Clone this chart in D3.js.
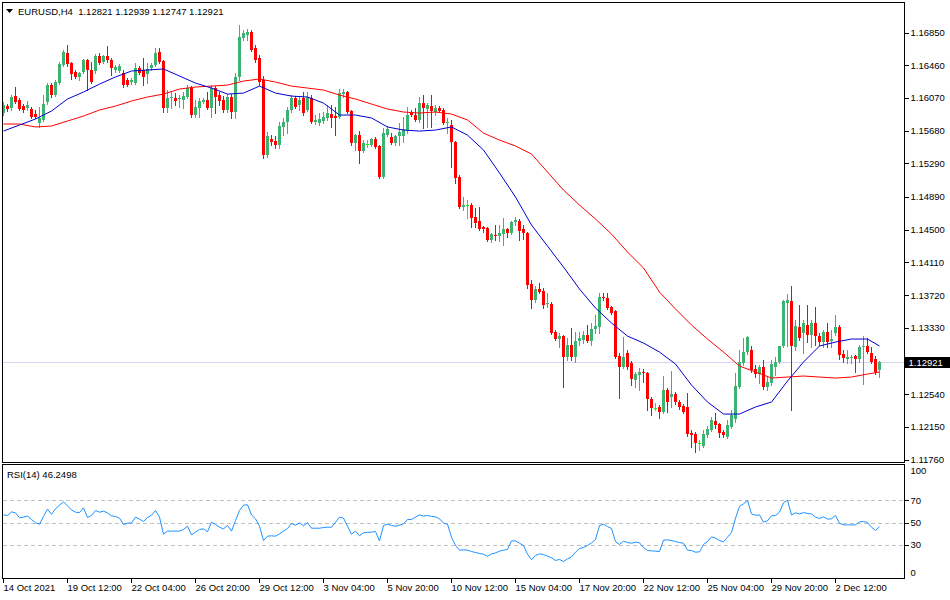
<!DOCTYPE html>
<html><head><meta charset="utf-8">
<script src="https://cdn.jsdelivr.net/npm/d3@7"></script>
<style>
html,body{margin:0;padding:0;background:#fff;}
svg{display:block;}
text{font-family:"Liberation Sans",Arial,sans-serif;font-size:9.5px;fill:#000;}
</style></head><body>
<svg id="c" width="950" height="600"></svg>
<script>
const symbol = "EURUSD,H4";
const open = [
1.15890,1.15973,1.15950,1.16092,1.16045,1.15973,1.15950,1.15938,1.15878,1.15771,
1.15807,1.16021,1.16223,1.16104,1.16247,1.16462,1.16605,1.16486,1.16379,1.16320,
1.16379,1.16522,1.16403,1.16391,1.16569,1.16498,1.16569,1.16522,1.16403,1.16391,
1.16367,1.16283,1.16259,1.16247,1.16427,1.16403,1.16355,1.16427,1.16462,1.16617,
1.16510,1.15950,1.16069,1.16069,1.16057,1.16045,1.16081,1.16188,1.15866,1.15950,
1.16021,1.16045,1.15950,1.16188,1.16104,1.16045,1.15926,1.16081,1.15902,1.16320,
1.16784,1.16820,1.16855,1.16665,1.16546,1.16283,1.15389,1.15580,1.15556,1.15509,
1.15723,1.15783,1.15926,1.16069,1.15985,1.16069,1.15926,1.16069,1.15783,1.15771,
1.15795,1.15831,1.15878,1.15854,1.15843,1.16116,1.16140,1.15914,1.15532,1.15627,
1.15437,1.15520,1.15509,1.15580,1.15497,1.15128,1.15627,1.15604,1.15532,1.15615,
1.15615,1.15687,1.15890,1.15866,1.15807,1.16009,1.15938,1.15973,1.15902,1.15950,
1.15926,1.15771,1.15747,1.15544,1.15128,1.14770,1.14793,1.14793,1.14651,1.14603,
1.14532,1.14520,1.14376,1.14435,1.14423,1.14447,1.14508,1.14459,1.14591,1.14603,
1.14508,1.14459,1.13851,1.13661,1.13792,1.13768,1.13613,1.13613,1.13279,1.13196,
1.13231,1.12982,1.13124,1.12982,1.13172,1.13184,1.13243,1.13172,1.13315,1.13339,
1.13697,1.13685,1.13578,1.13530,1.12994,1.12862,1.13030,1.12910,1.12707,1.12767,
1.12803,1.12791,1.12481,1.12374,1.12386,1.12326,1.12588,1.12505,1.12540,1.12445,
1.12397,1.12386,1.12075,1.12063,1.11956,1.11921,1.12051,1.12111,1.12219,1.12183,
1.12087,1.12028,1.12147,1.12243,1.12624,1.12910,1.13041,1.13065,1.12839,1.12779,
1.12862,1.12624,1.12671,1.12862,1.12922,1.13113,1.13625,1.13649,1.13101,1.13339,
1.13267,1.13363,1.13243,1.13387,1.13231,1.13160,1.13279,1.13172,1.13267,1.13339,
1.13018,1.12958,1.12970,1.12994,1.12958,1.13101,1.13113,1.13030,1.12958,1.12821];
const high = [
1.16021,1.15997,1.16104,1.16200,1.16069,1.15997,1.16033,1.15962,1.15926,1.15962,
1.16104,1.16247,1.16247,1.16283,1.16498,1.16641,1.16700,1.16498,1.16403,1.16379,
1.16534,1.16534,1.16498,1.16593,1.16605,1.16581,1.16688,1.16546,1.16462,1.16474,
1.16403,1.16308,1.16308,1.16486,1.16450,1.16546,1.16486,1.16486,1.16665,1.16665,
1.16522,1.16164,1.16140,1.16128,1.16104,1.16140,1.16223,1.16211,1.16045,1.16069,
1.16069,1.16140,1.16223,1.16211,1.16140,1.16092,1.16116,1.16116,1.16367,1.16939,
1.16879,1.16891,1.16879,1.16700,1.16581,1.16331,1.15663,1.15627,1.15615,1.15783,
1.15831,1.15962,1.16104,1.16092,1.16081,1.16140,1.16140,1.16104,1.15866,1.15890,
1.15902,1.15985,1.15985,1.15962,1.16176,1.16176,1.16152,1.15926,1.15639,1.15675,
1.15568,1.15568,1.15592,1.15604,1.15509,1.15711,1.15735,1.15651,1.15627,1.15771,
1.15843,1.15962,1.15926,1.15950,1.16081,1.16104,1.16009,1.16104,1.15985,1.15973,
1.15950,1.15831,1.15807,1.15556,1.15151,1.14889,1.14853,1.14817,1.14758,1.14770,
1.14544,1.14532,1.14459,1.14555,1.14555,1.14639,1.14520,1.14603,1.14651,1.14627,
1.14555,1.14471,1.13899,1.13827,1.13863,1.13804,1.13744,1.13637,1.13303,1.13267,
1.13243,1.13208,1.13327,1.13279,1.13279,1.13291,1.13363,1.13387,1.13482,1.13744,
1.13744,1.13744,1.13589,1.13542,1.13030,1.13220,1.13065,1.12934,1.12803,1.12851,
1.12839,1.12803,1.12505,1.12433,1.12409,1.12755,1.12612,1.12815,1.12564,1.12469,
1.12421,1.12552,1.12111,1.12087,1.11992,1.12111,1.12159,1.12266,1.12314,1.12195,
1.12111,1.12231,1.12350,1.12791,1.13065,1.13208,1.13231,1.13113,1.12886,1.12886,
1.12946,1.12743,1.12946,1.12982,1.13113,1.13661,1.13732,1.13827,1.13423,1.13601,
1.13423,1.13601,1.13423,1.13578,1.13267,1.13303,1.13387,1.13303,1.13482,1.13363,
1.13065,1.13065,1.13006,1.13006,1.13124,1.13231,1.13208,1.13101,1.12994,1.12939];
const low = [
1.15866,1.15914,1.15926,1.16009,1.15926,1.15902,1.15926,1.15831,1.15831,1.15724,
1.15795,1.15997,1.16081,1.16092,1.16235,1.16450,1.16450,1.16296,1.16308,1.16283,
1.16367,1.16164,1.16247,1.16367,1.16474,1.16486,1.16498,1.16343,1.16379,1.16379,
1.16200,1.16211,1.16235,1.16235,1.16355,1.16223,1.16247,1.16403,1.16450,1.16486,
1.15902,1.15902,1.15950,1.15985,1.15962,1.15950,1.16069,1.15843,1.15843,1.15843,
1.16009,1.15938,1.15843,1.15890,1.15985,1.15902,1.15902,1.15831,1.15831,1.16283,
1.16760,1.16760,1.16629,1.16498,1.16223,1.15354,1.15366,1.15509,1.15473,1.15473,
1.15627,1.15651,1.15902,1.15950,1.15926,1.15866,1.15914,1.15771,1.15759,1.15747,
1.15771,1.15807,1.15724,1.15627,1.15831,1.16081,1.15890,1.15509,1.15449,1.15294,
1.15425,1.15485,1.15497,1.15473,1.15116,1.15116,1.15615,1.15520,1.15509,1.15509,
1.15544,1.15651,1.15854,1.15795,1.15783,1.15711,1.15724,1.15724,1.15866,1.15902,
1.15759,1.15651,1.15247,1.15055,1.14758,1.14734,1.14639,1.14532,1.14532,1.14495,
1.14471,1.14364,1.14352,1.14376,1.14364,1.14316,1.14412,1.14447,1.14555,1.14376,
1.14388,1.13804,1.13566,1.13637,1.13744,1.13566,1.13578,1.13255,1.13184,1.13101,
1.12624,1.12946,1.12946,1.12922,1.13124,1.13148,1.13160,1.13124,1.13267,1.13267,
1.13661,1.13554,1.13494,1.12970,1.12493,1.12850,1.12839,1.12647,1.12624,1.12588,
1.12683,1.12350,1.12290,1.12350,1.12255,1.12314,1.12326,1.12386,1.12421,1.12362,
1.12314,1.12040,1.11909,1.11849,1.11873,1.11909,1.12028,1.12099,1.12135,1.12028,
1.12028,1.12016,1.12135,1.12207,1.12612,1.12886,1.13018,1.12803,1.12743,1.12671,
1.12600,1.12588,1.12647,1.12767,1.12910,1.13101,1.13113,1.12350,1.13065,1.13184,
1.13030,1.13160,1.13101,1.13124,1.13124,1.13101,1.13101,1.13101,1.13243,1.12958,
1.12922,1.12910,1.12910,1.12803,1.12922,1.12659,1.13030,1.12910,1.12779,1.12747];
const close = [
1.15985,1.15938,1.16081,1.16021,1.15938,1.15926,1.15985,1.15843,1.15843,1.15831,
1.15997,1.16223,1.16104,1.16259,1.16474,1.16617,1.16474,1.16355,1.16320,1.16367,
1.16522,1.16403,1.16259,1.16569,1.16486,1.16569,1.16522,1.16427,1.16439,1.16450,
1.16223,1.16223,1.16283,1.16427,1.16367,1.16320,1.16415,1.16462,1.16605,1.16498,
1.15950,1.16069,1.16081,1.16033,1.16069,1.16092,1.16188,1.15866,1.15962,1.16033,
1.16045,1.15950,1.16188,1.16081,1.16033,1.15926,1.16081,1.15902,1.16320,1.16796,
1.16843,1.16855,1.16641,1.16522,1.16259,1.15389,1.15615,1.15544,1.15509,1.15735,
1.15783,1.15926,1.16069,1.15962,1.16045,1.15890,1.16081,1.15783,1.15807,1.15819,
1.15843,1.15890,1.15831,1.15831,1.16128,1.16140,1.15902,1.15532,1.15627,1.15437,
1.15532,1.15520,1.15580,1.15485,1.15128,1.15651,1.15699,1.15532,1.15615,1.15663,
1.15699,1.15866,1.15866,1.15807,1.16009,1.15950,1.15985,1.15914,1.15950,1.15914,
1.15771,1.15783,1.15544,1.15116,1.14770,1.14793,1.14793,1.14639,1.14579,1.14508,
1.14508,1.14376,1.14447,1.14423,1.14459,1.14508,1.14459,1.14591,1.14615,1.14483,
1.14459,1.13840,1.13661,1.13792,1.13756,1.13601,1.13625,1.13267,1.13196,1.13231,
1.12982,1.13124,1.12982,1.13172,1.13208,1.13243,1.13172,1.13315,1.13351,1.13697,
1.13685,1.13566,1.13506,1.12982,1.12862,1.12982,1.12862,1.12719,1.12779,1.12803,
1.12791,1.12481,1.12374,1.12374,1.12326,1.12588,1.12445,1.12540,1.12445,1.12386,
1.12326,1.12063,1.12051,1.11956,1.11956,1.12063,1.12123,1.12231,1.12171,1.12075,
1.12051,1.12171,1.12290,1.12636,1.12922,1.13041,1.13220,1.12827,1.12779,1.12862,
1.12624,1.12683,1.12898,1.12922,1.13113,1.13649,1.13661,1.13113,1.13351,1.13208,
1.13387,1.13243,1.13387,1.13231,1.13160,1.13279,1.13160,1.13196,1.13339,1.13006,
1.12970,1.12982,1.12982,1.12958,1.13101,1.13113,1.13041,1.12922,1.12803,1.12921];

const maBars = [0,4,8,12,16,20,24,28,32,36,40,44,48,52,56,60,64,68,72,76,80,84,88,92,96,100,
104,108,112,116,120,124,128,132,136,140,144,148,152,156,160,164,168,172,176,180,184,188,192,196,
200,204,208,212,216,219];
const maFast = [1.15675,1.15747,1.15819,1.15914,1.16057,1.16140,1.16235,1.16320,1.16391,1.16403,
1.16415,1.16331,1.16247,1.16188,1.16116,1.16128,1.16211,1.16128,1.16092,1.16081,
1.16009,1.15866,1.15866,1.15831,1.15724,1.15687,1.15675,1.15687,1.15724,1.15627,
1.15449,1.15175,1.14889,1.14555,1.14304,1.14054,1.13792,1.13566,1.13387,1.13231,
1.13148,1.13041,1.12898,1.12647,1.12445,1.12302,1.12302,1.12386,1.12445,1.12695,
1.12922,1.13113,1.13160,1.13196,1.13196,1.13113];
const maSlow = [1.15759,1.15759,1.15724,1.15735,1.15795,1.15854,1.15926,1.15973,1.16033,1.16081,
1.16116,1.16176,1.16200,1.16211,1.16223,1.16271,1.16296,1.16259,1.16211,1.16188,
1.16164,1.16104,1.16057,1.15997,1.15938,1.15902,1.15890,1.15902,1.15878,1.15807,
1.15651,1.15568,1.15497,1.15401,1.15187,1.14972,1.14793,1.14627,1.14447,1.14233,
1.14043,1.13756,1.13554,1.13363,1.13196,1.13041,1.12874,1.12803,1.12731,1.12743,
1.12755,1.12743,1.12731,1.12743,1.12779,1.12803];

const rsi = [
56.8,56.2,59.5,58.6,54.2,54.8,55.7,52.7,49.7,48.5,
55.4,61.9,57.4,62.2,65.5,68.5,64.9,61.3,59.2,58.9,
63.1,54.5,56.3,60.7,59.2,60.1,58.6,55.9,55.4,53.9,
48.2,49.4,49.7,54.8,53.0,50.9,54.5,56.5,60.7,54.8,
39.6,42.3,42.3,42.3,42.3,43.8,46.7,39.0,41.4,43.8,
44.3,41.7,50.3,48.2,45.8,44.3,47.3,42.3,51.8,60.7,
65.5,65.8,56.8,53.3,46.7,33.9,37.8,38.1,37.8,39.9,
42.3,44.6,49.1,47.6,49.7,47.0,50.0,44.9,44.9,44.9,
45.5,45.8,45.8,50.3,54.8,53.9,46.7,39.6,42.3,38.1,
40.8,41.1,41.4,42.0,33.6,47.3,48.5,47.3,46.7,47.6,
48.8,52.7,52.7,54.8,56.8,55.7,56.3,55.4,55.1,53.3,
49.4,48.5,36.9,29.5,25.3,25.6,25.3,24.1,23.2,22.3,
21.7,19.9,22.0,22.9,24.4,25.3,25.9,33.6,33.6,31.5,
29.5,21.7,16.7,20.5,22.0,21.4,19.9,18.5,16.1,17.0,
15.2,17.6,19.3,23.5,26.8,27.7,29.5,31.8,34.8,47.3,
48.5,46.4,44.6,33.0,30.4,33.3,32.1,31.5,32.4,31.8,
27.7,25.0,24.7,24.4,24.1,34.2,34.5,33.9,33.0,32.1,
31.5,25.3,25.0,23.5,23.8,30.4,33.0,37.2,36.0,33.9,
32.7,36.9,41.1,53.9,64.3,66.7,69.6,57.7,56.5,56.8,
50.3,51.5,56.0,56.3,59.2,67.6,69.9,56.8,58.6,57.7,
58.9,58.0,57.7,54.8,53.6,55.1,53.0,53.3,56.3,49.4,
47.9,47.9,47.9,47.9,50.6,50.9,50.0,45.8,42.9,46.2498];

const priceTicks = [1.16850,1.16460,1.16070,1.15680,1.15290,1.14890,1.14500,1.14110,1.13720,1.13330,1.12540,1.12150,1.11760];
const rsiTicks = [100,70,50,30,0];
const rsiLevels = [70,50,30];
const dateTickBars = [0,16,32,48,64,80,96,112,128,144,160,176,192,208];
const dateLabels = ["14 Oct 2021","19 Oct 12:00","22 Oct 04:00","26 Oct 20:00","29 Oct 12:00","3 Nov 04:00","5 Nov 20:00","10 Nov 12:00","15 Nov 04:00","17 Nov 20:00","22 Nov 12:00","25 Nov 04:00","29 Nov 20:00","2 Dec 12:00"];

const n = close.length;
const svg = d3.select("#c");
const L = 2.5, R = 904.5, MT = 2.5, MB = 462.5, RT = 464.5, RB = 578.5;
const x = d3.scaleLinear().domain([0, n-1]).range([3.5, 3.5 + 4*(n-1)]);
const y = d3.scaleLinear().domain([1.11760, 1.16850]).range([459.5, 32.5]);
const yr = d3.scaleLinear().domain([0, 100]).range([RB, RT + 2]);
const f5 = d3.format(".5f");

const defs = svg.append("defs");
defs.append("clipPath").attr("id","cm").append("rect").attr("x",L).attr("y",MT).attr("width",R-L).attr("height",MB-MT);
defs.append("clipPath").attr("id","cr").append("rect").attr("x",L).attr("y",RT).attr("width",R-L).attr("height",RB-RT);

// current price line
const last = close[n-1];
const yl = Math.round(y(last));
svg.append("line").attr("x1",L).attr("x2",R).attr("y1",yl+0.5).attr("y2",yl+0.5)
  .attr("stroke","#d6d6f2").attr("stroke-width",1).attr("shape-rendering","crispEdges");

// candles
const gc = svg.append("g").attr("clip-path","url(#cm)").attr("shape-rendering","crispEdges");
const idx = d3.range(n);
const col = i => close[i] > open[i] ? "#3cb371" : (close[i] < open[i] ? "#ff0000" : "#00ff00");
gc.selectAll("line.w").data(idx).join("line").attr("class","w")
  .attr("x1",i=>x(i)).attr("x2",i=>x(i))
  .attr("y1",i=>y(high[i])).attr("y2",i=>y(low[i])+1)
  .attr("stroke",col).attr("stroke-width",1);
gc.selectAll("rect.b").data(idx).join("rect").attr("class","b")
  .attr("x",i=>x(i)-1.5).attr("width",3)
  .attr("y",i=>Math.min(y(open[i]),y(close[i])))
  .attr("height",i=>Math.max(1,Math.abs(y(open[i])-y(close[i]))))
  .attr("fill",col);

// moving averages
const gm = svg.append("g").attr("clip-path","url(#cm)");
const maLine = d3.line().x((d,k)=>x(maBars[k])).y(d=>y(d));
gm.append("path").attr("d",maLine(maSlow)).attr("fill","none").attr("stroke","#ff0000").attr("stroke-width",1);
gm.append("path").attr("d",maLine(maFast)).attr("fill","none").attr("stroke","#0000cd").attr("stroke-width",1);

// frames
svg.append("rect").attr("x",L).attr("y",MT).attr("width",R-L).attr("height",MB-MT).attr("fill","none").attr("stroke","#000").attr("shape-rendering","crispEdges");
svg.append("rect").attr("x",L).attr("y",RT).attr("width",R-L).attr("height",RB-RT).attr("fill","none").attr("stroke","#000").attr("shape-rendering","crispEdges");

// price axis
const ay = svg.append("g").attr("transform",`translate(${R},0)`)
  .call(d3.axisRight(y).tickValues(priceTicks).tickFormat(f5).tickSize(4).tickPadding(2));
ay.select(".domain").remove();
ay.selectAll("line").attr("stroke","#000").attr("shape-rendering","crispEdges");
ay.selectAll("text").attr("font-family","Liberation Sans, Arial, sans-serif").attr("font-size","9.5px").attr("fill","#000");

// price box
svg.append("rect").attr("x",R+0.5).attr("y",yl-5).attr("width",45).attr("height",11).attr("fill","#000");
svg.append("text").attr("x",R+4).attr("y",yl+0.5).attr("dy","0.35em").style("fill","#fff").text(f5(last));

// header
svg.append("path").attr("d","M6,9 L13,9 L9.5,13 Z").attr("fill","#000");
svg.append("text").attr("x",18).attr("y",15).style("white-space","pre")
  .text(`${symbol}  ${f5(open[n-1])} ${f5(high[n-1])} ${f5(low[n-1])} ${f5(close[n-1])}`);

// RSI
const gr = svg.append("g").attr("clip-path","url(#cr)");
gr.selectAll("line.lv").data(rsiLevels).join("line").attr("class","lv")
  .attr("x1",L).attr("x2",R).attr("y1",d=>Math.round(yr(d))+0.5).attr("y2",d=>Math.round(yr(d))+0.5)
  .attr("stroke","#c0c0c0").attr("stroke-dasharray","4,3").attr("shape-rendering","crispEdges");
gr.append("path").attr("d",d3.line().x((d,i)=>x(i)).y(d=>yr(d))(rsi))
  .attr("fill","none").attr("stroke","#1e90ff").attr("stroke-width",1);
svg.append("text").attr("x",7).attr("y",478).text(`RSI(14) ${rsi[n-1].toFixed(4)}`);

const ar = svg.append("g").attr("transform",`translate(${R},0)`)
  .call(d3.axisRight(yr).tickValues(rsiTicks).tickFormat(d3.format("d")).tickSize(4).tickPadding(2));
ar.select(".domain").remove();
ar.selectAll("line").attr("stroke","#000").attr("shape-rendering","crispEdges");
ar.selectAll("text").attr("font-family","Liberation Sans, Arial, sans-serif").attr("font-size","9.5px").attr("fill","#000")
  .attr("dy",d=>d===100?"0.75em":(d===0?"-0.35em":"0.32em"));
ar.selectAll(".tick").filter(d=>d===100||d===0).select("line").remove();

// time axis
const ax = svg.append("g").attr("transform",`translate(-0.5,${RB})`)
  .call(d3.axisBottom(x).tickValues(dateTickBars).tickFormat((d,k)=>dateLabels[k]).tickSize(4).tickPadding(2));
ax.select(".domain").remove();
ax.selectAll("line").attr("stroke","#000").attr("shape-rendering","crispEdges");
ax.selectAll("text").attr("text-anchor","start").attr("x",0)
  .attr("font-family","Liberation Sans, Arial, sans-serif").attr("font-size","9.5px").attr("fill","#000");
</script>
</body></html>
